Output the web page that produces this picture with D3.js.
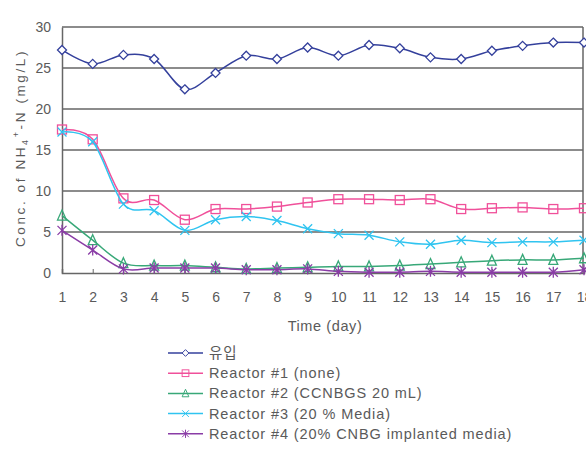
<!DOCTYPE html>
<html>
<head>
<meta charset="utf-8">
<script src="https://cdn.jsdelivr.net/npm/d3@7"></script>
<style>
body { margin: 0; background: #fff; }
text { font-family: "Liberation Sans", Arial, sans-serif; fill: #5a5a5a; }
</style>
</head>
<body>
<div id="chart"></div>
<script>
var width = 586;
var height = 464;

// days and series
var days = [1, 2, 3, 4, 5, 6, 7, 8, 9, 10, 11, 12, 13, 14, 15, 16, 17, 18];
var influent = [27.2, 25.5, 26.6, 26.1, 22.4, 24.4, 26.5, 26.1, 27.5, 26.5, 27.8, 27.4, 26.3, 26.1, 27.1, 27.7, 28.1, 28.1];
var reactor1 = [17.5, 16.3, 9.1, 8.9, 6.5, 7.8, 7.8, 8.1, 8.6, 9.0, 9.0, 8.9, 9.0, 7.8, 7.9, 8.0, 7.8, 7.9];
var reactor2 = [7.0, 4.0, 1.2, 0.9, 0.9, 0.7, 0.5, 0.6, 0.7, 0.8, 0.8, 0.9, 1.1, 1.3, 1.5, 1.6, 1.6, 1.8];
var reactor3 = [17.2, 16.0, 8.4, 7.6, 5.2, 6.5, 6.9, 6.4, 5.4, 4.8, 4.6, 3.8, 3.5, 4.0, 3.7, 3.8, 3.8, 4.0];
var reactor4 = [5.2, 2.8, 0.5, 0.6, 0.6, 0.6, 0.4, 0.4, 0.5, 0.2, 0.1, 0.1, 0.2, 0.1, 0.1, 0.1, 0.1, 0.4];
var yTicks = [0, 5, 10, 15, 20, 25, 30];

var series = [
    {name: "유입", values: influent, color: "#34409c", marker: "diamond"},
    {name: "Reactor #1 (none)", values: reactor1, color: "#f0509a", marker: "square"},
    {name: "Reactor #2 (CCNBGS 20 mL)", values: reactor2, color: "#38a878", marker: "triangle"},
    {name: "Reactor #3 (20 % Media)", values: reactor3, color: "#30c4f0", marker: "cross"},
    {name: "Reactor #4 (20% CNBG implanted media)", values: reactor4, color: "#8a3ca6", marker: "star"}
];

var plotLeft = 62, plotRight = 584, plotTop = 27, plotBottom = 273;

var svg = d3.select("#chart").append("svg")
    .attr("width", width)
    .attr("height", height);

var x = d3.scaleLinear().domain([1, 18]).range([plotLeft, plotRight]);
var y = d3.scaleLinear().domain([0, 30]).range([plotBottom, plotTop]);

// grid + frame
svg.append("g")
    .selectAll("line")
    .data(yTicks.filter(d => d > 0))
    .enter().append("line")
    .attr("x1", plotLeft).attr("x2", plotRight - 1)
    .attr("y1", d => y(d)).attr("y2", d => y(d))
    .attr("stroke", "#666").attr("stroke-width", 1.3);
svg.append("line")
    .attr("x1", plotRight - 1).attr("x2", plotRight - 1)
    .attr("y1", plotTop).attr("y2", plotBottom)
    .attr("stroke", "#666").attr("stroke-width", 1.5);

// axes
var yAxis = d3.axisLeft(y).tickValues(yTicks).tickSize(0).tickPadding(11);
var gy = svg.append("g").attr("transform", `translate(${plotLeft},0)`).call(yAxis);
gy.select(".domain").attr("stroke", "#666").attr("stroke-width", 1.5);
gy.selectAll("text").style("font-size", "14px").attr("fill", "#5a5a5a");

var xAxis = d3.axisBottom(x).tickValues(days).tickSize(-4).tickPadding(19);
var gx = svg.append("g").attr("transform", `translate(0,${plotBottom})`).call(xAxis);
gx.select(".domain").attr("stroke", "#666").attr("stroke-width", 1.5);
gx.selectAll(".tick line").attr("stroke", "#666");
gx.selectAll("text").style("font-size", "14px").attr("fill", "#5a5a5a");

// axis titles
svg.append("text")
    .attr("x", 325).attr("y", 331)
    .attr("text-anchor", "middle")
    .style("font-size", "14.5px")
    .style("letter-spacing", "0.6px")
    .text("Time (day)");

var ytitle = svg.append("text")
    .attr("transform", "translate(25,148) rotate(-90)")
    .attr("text-anchor", "middle")
    .style("font-size", "13.5px")
    .style("letter-spacing", "2.6px");
ytitle.append("tspan").text("Conc. of NH");
ytitle.append("tspan").attr("dy", 3).style("font-size", "9px").text("4");
ytitle.append("tspan").attr("dy", -9).style("font-size", "9px").text("+");
ytitle.append("tspan").attr("dy", 6).text("-N (mg/L)");

function drawMarker(g, type, color) {
    var s = 4.5;
    if (type == "diamond") {
        g.append("path").attr("d", `M0,${-s}L${s},0L0,${s}L${-s},0Z`)
            .attr("fill", "#fff").attr("stroke", color).attr("stroke-width", 1.3);
    } else if (type == "square") {
        g.append("rect").attr("x", -s).attr("y", -s).attr("width", 2 * s).attr("height", 2 * s)
            .attr("fill", "none").attr("stroke", color).attr("stroke-width", 1.3);
    } else if (type == "triangle") {
        g.append("path").attr("d", `M0,${-s - 1}L${s},${s}L${-s},${s}Z`)
            .attr("fill", "none").attr("stroke", color).attr("stroke-width", 1.3);
    } else if (type == "cross") {
        g.append("path").attr("d", `M${-s},${-s}L${s},${s}M${-s},${s}L${s},${-s}`)
            .attr("stroke", color).attr("stroke-width", 1.3);
    } else {
        g.append("path").attr("d", `M${-s},${-s}L${s},${s}M${-s},${s}L${s},${-s}M0,${-s - 1}L0,${s + 1}`)
            .attr("stroke", color).attr("stroke-width", 1.3);
    }
}

var line = d3.line()
    .x((d, i) => x(days[i]))
    .y(d => y(d))
    .curve(d3.curveCardinal.tension(0));

series.forEach(function(s) {
    svg.append("path")
        .datum(s.values)
        .attr("d", line)
        .attr("fill", "none")
        .attr("stroke", s.color)
        .attr("stroke-width", 1.5);
    s.values.forEach(function(v, i) {
        var g = svg.append("g").attr("transform", `translate(${x(days[i])},${y(v)})`);
        drawMarker(g, s.marker, s.color);
    });
});

// legend
var legend = svg.append("g");
series.forEach(function(s, i) {
    var ly = 353 + i * 20.2;
    legend.append("line")
        .attr("x1", 168).attr("x2", 203)
        .attr("y1", ly).attr("y2", ly)
        .attr("stroke", s.color).attr("stroke-width", 1.5);
    var g = legend.append("g").attr("transform", `translate(185.5,${ly}) scale(0.75)`);
    drawMarker(g, s.marker, s.color);
    legend.append("text")
        .attr("x", 209).attr("y", ly + 5)
        .style("font-size", "14.5px")
        .style("letter-spacing", "0.9px")
        .style("font-family", i == 0 ? "'Noto Sans CJK KR', sans-serif" : null)
        .text(s.name);
});
</script>
</body>
</html>
